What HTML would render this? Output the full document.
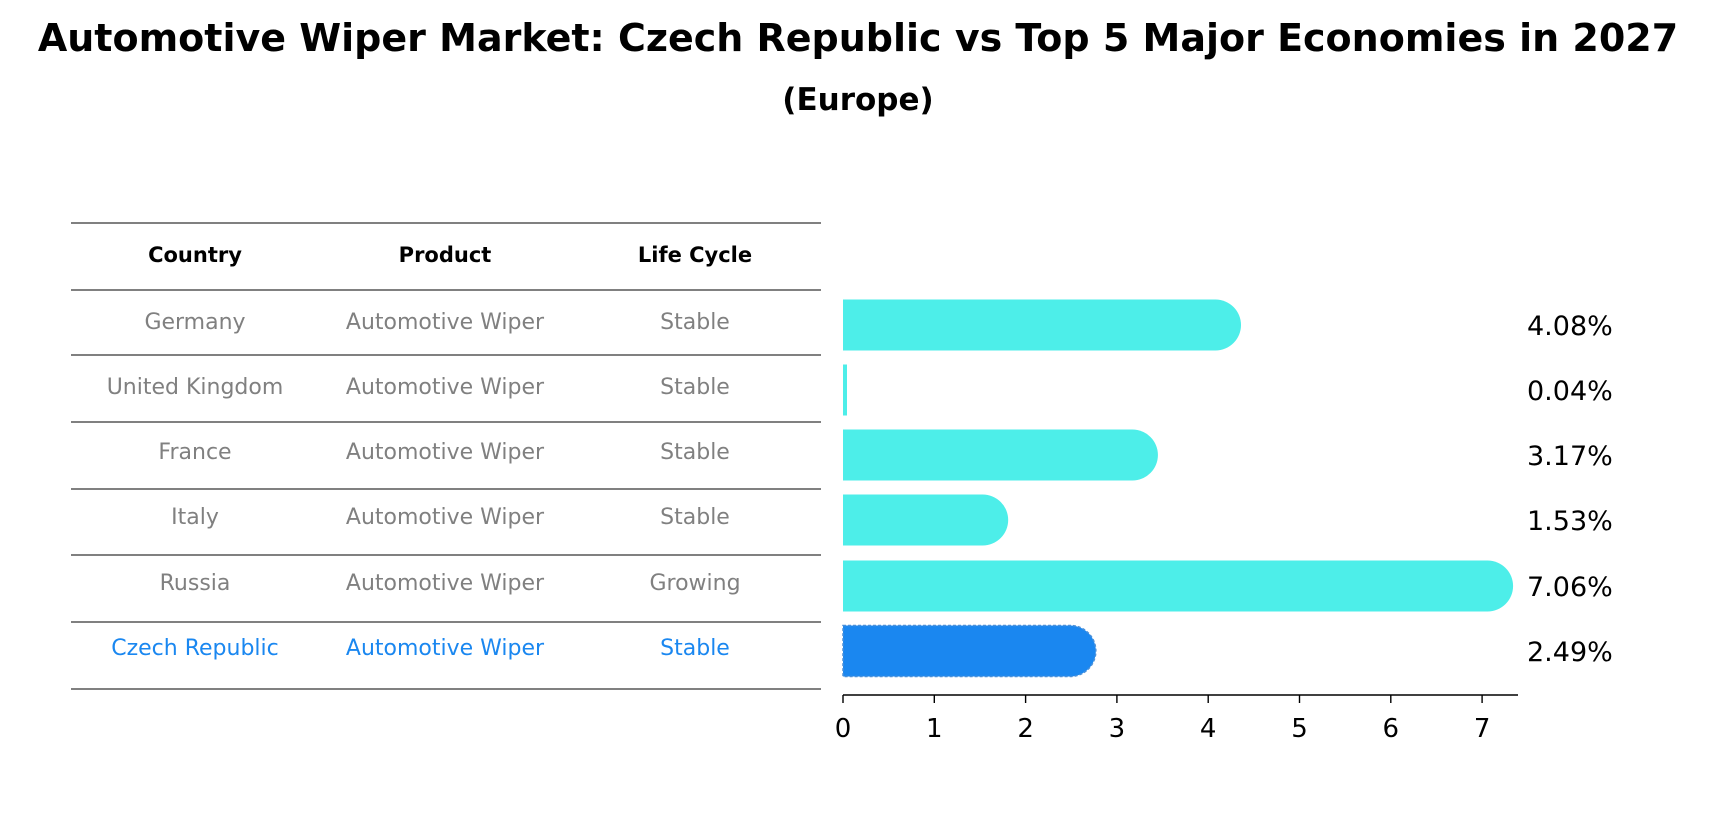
<!DOCTYPE html>
<html><head><meta charset="utf-8"><style>
body{margin:0;background:#fff;font-family:"DejaVu Sans","Liberation Sans",sans-serif;}
svg text{font-family:"DejaVu Sans","Liberation Sans",sans-serif;}
</style></head><body>
<svg width="1716" height="823" viewBox="0 0 1716 823" xmlns="http://www.w3.org/2000/svg">
<text x="858" y="51" text-anchor="middle" font-size="38" font-weight="bold">Automotive Wiper Market: Czech Republic vs Top 5 Major Economies in 2027</text>
<text x="858" y="110" text-anchor="middle" font-size="31" font-weight="bold">(Europe)</text>
<g id="table"></g>
<g id="bars"></g>
</svg>
<script>
const countries=["Germany","United Kingdom","France","Italy","Russia","Czech Republic"];
const products=["Automotive Wiper","Automotive Wiper","Automotive Wiper","Automotive Wiper","Automotive Wiper","Automotive Wiper"];
const lifeCycles=["Stable","Stable","Stable","Stable","Growing","Stable"];
const values=[4.08,0.04,3.17,1.53,7.06,2.49];
const ticks=[0,1,2,3,4,5,6,7];
const NS="http://www.w3.org/2000/svg";
function mk(tag,attrs,parent,text){const e=document.createElementNS(NS,tag);for(const k in attrs)e.setAttribute(k,attrs[k]);if(text!==undefined)e.textContent=text;parent.appendChild(e);return e;}
const x0=843,unit=91.3,rowY=[325,390,455,520,586,651],bh=51;
const xs=v=>x0+v*unit;
const tbl=document.getElementById('table');
const lines=[223,290,355,422,489,555,622,689];
lines.forEach(y=>{const l=mk('line',{x1:71,x2:821,y1:y,y2:y,stroke:'#000','stroke-width':1},tbl);

});
const cx=[195,445,695];
["Country","Product","Life Cycle"].forEach((h,i)=>{const t=mk('text',{x:cx[i],y:262,'text-anchor':'middle','font-size':21,'font-weight':'bold'},tbl,h);

});
countries.forEach((c,r)=>{const col=r===countries.length-1?'#1a87f0':'#808080';
[c,products[r],lifeCycles[r]].forEach((v,i)=>{const t=mk('text',{x:cx[i],y:rowY[r]+4,'text-anchor':'middle','font-size':22,fill:col},tbl,v);

});});
const g=document.getElementById('bars');
values.forEach((v,i)=>{const last=i===values.length-1;const col=last?'#1a87f0':'#4deee9';
const y=rowY[i]-bh/2,w=xs(v)-x0,r=bh/2;
let d;
if(w>r){d=`M${x0},${y} H${x0+w} A${r},${r} 0 0 1 ${x0+w},${y+bh} H${x0} Z`;}else{d=`M${x0},${y} h${Math.max(w,4)} v${bh} h${-Math.max(w,4)} Z`;}
const p=mk('path',{d:d,fill:col},g);
if(last){p.setAttribute('stroke','#4a90d9');p.setAttribute('stroke-dasharray','3,2');p.setAttribute('stroke-width','1.5');}


const t=mk('text',{x:1527,y:rowY[i]+10,'font-size':27},g,v.toFixed(2)+'%');

});
const ax=mk('line',{x1:x0,x2:1518,y1:695,y2:695,stroke:'#000','stroke-width':1.6},g);


ticks.forEach(tk=>{const l=mk('line',{x1:xs(tk),x2:xs(tk),y1:695,y2:703,stroke:'#000','stroke-width':1.4},g);


const t=mk('text',{x:xs(tk),y:737,'text-anchor':'middle','font-size':26},g,String(tk));

});
</script>
</body></html>
